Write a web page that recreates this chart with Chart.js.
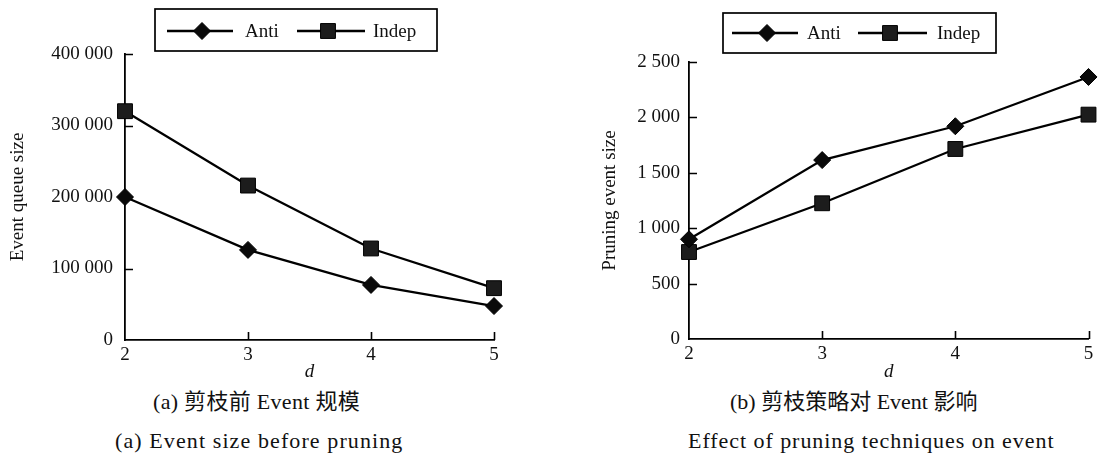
<!DOCTYPE html>
<html><head><meta charset="utf-8">
<script src="https://cdn.jsdelivr.net/npm/chart.js@4/dist/chart.umd.min.js"></script>
<style>
body{margin:0;width:1100px;height:455px;background:#fff;position:relative;overflow:hidden}
canvas{position:absolute;top:0}
#c1{left:0}
#c2{left:580px}
.cap{position:absolute;font-family:"Liberation Serif","Noto Sans CJK SC",serif;font-size:22px;color:#111;white-space:nowrap;line-height:1}
</style></head><body>
<canvas id="c1" width="560" height="385"></canvas>
<canvas id="c2" width="520" height="385"></canvas>
<div class="cap" style="left:153px;top:391px;letter-spacing:0.3px">(a) 剪枝前 Event 规模</div>
<div class="cap" style="left:115px;top:430px;letter-spacing:1.1px">(a) Event size before pruning</div>
<div class="cap" style="left:730px;top:391px;letter-spacing:0px">(b) 剪枝策略对 Event 影响</div>
<div class="cap" style="left:688px;top:430px;letter-spacing:0.95px">Effect of pruning techniques on event</div>
<script>
// ---- data ----
const categories = ['2', '3', '4', '5'];
const seriesNames = ['Anti', 'Indep'];
const queueAnti = [200000, 126000, 77000, 47500];
const queueIndep = [320000, 216000, 128000, 72500];
const pruneAnti = [900, 1615, 1920, 2365];
const pruneIndep = [785, 1225, 1715, 2025];
const queueTicks = [0, 100000, 200000, 300000, 400000];
const queueTickLabels = ['0', '100 000', '200 000', '300 000', '400 000'];
const pruneTicks = [0, 500, 1000, 1500, 2000, 2500];
const pruneTickLabels = ['0', '500', '1 000', '1 500', '2 000', '2 500'];
const xTitle = 'd';
const queueTitle = 'Event queue size';
const pruneTitle = 'Pruning event size';

const SERIF = '"Liberation Serif", "Times New Roman", serif';

const inwardTicks = {
  id: 'inwardTicks',
  beforeDatasetsDraw(chart) {
    const {ctx, chartArea: a, scales: {x, y}} = chart;
    ctx.save();
    ctx.strokeStyle = '#000';
    ctx.lineWidth = 1.6;
    ctx.beginPath();
    y.ticks.forEach(t => {
      if (t.value === y.min) return;
      const p = Math.round(y.getPixelForValue(t.value)) + 0.5;
      ctx.moveTo(a.left, p); ctx.lineTo(a.left + 8, p);
    });
    x.ticks.forEach((t, i) => {
      if (i === 0) return;
      const p = Math.round(x.getPixelForTick(i)) + 0.5;
      ctx.moveTo(p, a.bottom); ctx.lineTo(p, a.bottom - 8);
    });
    ctx.stroke();
    ctx.restore();
  }
};

const boxLegend = {
  id: 'boxLegend',
  afterDraw(chart, args, o) {
    const ctx = chart.ctx;
    ctx.save();
    ctx.strokeStyle = '#000';
    ctx.lineWidth = 1.7;
    ctx.strokeRect(o.box[0], o.box[1], o.box[2] - o.box[0], o.box[3] - o.box[1]);
    ctx.font = '19px ' + SERIF;
    ctx.textBaseline = 'middle';
    ctx.textAlign = 'left';
    o.items.forEach((it, i) => {
      const ds = chart.data.datasets[i];
      ctx.strokeStyle = '#000';
      ctx.lineWidth = 2.3;
      ctx.beginPath(); ctx.moveTo(it[0], o.cy); ctx.lineTo(it[1], o.cy); ctx.stroke();
      ctx.fillStyle = ds.pointBackgroundColor;
      ctx.strokeStyle = ds.pointBorderColor;
      ctx.lineWidth = 1;
      Chart.helpers.drawPoint(ctx, {pointStyle: ds.pointStyle, radius: ds.pointRadius, rotation: 0, borderWidth: 1}, it[2], o.cy);
      ctx.fillStyle = '#111';
      ctx.fillText(ds.label, it[3], o.cy + 1);
    });
    ctx.restore();
  }
};

function makeChart(id, anti, indep, ticks, tickLabels, yMax, yStep, title, L) {
  return new Chart(document.getElementById(id), {
    type: 'line',
    data: {
      labels: categories,
      datasets: [
        {label: seriesNames[0], data: anti, borderColor: '#000', borderWidth: 2.3,
         pointStyle: 'rectRot', pointRadius: 8.5, pointBackgroundColor: '#0a0a0a', pointBorderColor: '#000',
         pointBorderWidth: 1, tension: 0, clip: false},
        {label: seriesNames[1], data: indep, borderColor: '#000', borderWidth: 2.3,
         pointStyle: 'rect', pointRadius: 10.5, pointBackgroundColor: '#1c1c1c', pointBorderColor: '#000',
         pointBorderWidth: 1, tension: 0, clip: false}
      ]
    },
    options: {
      responsive: false,
      animation: false,
      devicePixelRatio: 1,
      layout: {padding: {left: 0, right: L.padRight, top: L.top, bottom: 0}},
      plugins: {
        legend: {display: false},
        tooltip: {enabled: false},
        boxLegend: L.legend
      },
      scales: {
        x: {
          type: 'category',
          offset: false,
          grid: {display: false, drawTicks: false},
          border: {display: true, color: '#000', width: 1.8},
          ticks: {color: '#111', font: {family: SERIF, size: 19}, padding: 4, maxRotation: 0},
          title: {display: true, text: xTitle, color: '#111', font: {family: SERIF, size: 19, style: 'italic'}, padding: {top: 0, bottom: 2}},
          afterFit(s) { s.height = L.xHeight; }
        },
        y: {
          min: 0, max: yMax,
          grid: {display: false, drawTicks: false},
          border: {display: true, color: '#000', width: 1.8},
          ticks: {
            stepSize: yStep, color: '#111', font: {family: SERIF, size: 19}, padding: L.tickPad,
            callback: v => tickLabels[ticks.indexOf(v)]
          },
          title: {display: true, text: title, color: '#111', font: {family: SERIF, size: 19}, padding: {top: L.titlePad, bottom: 0}},
          afterFit(s) { s.width = L.yWidth; }
        }
      }
    },
    plugins: [inwardTicks, boxLegend]
  });
}

makeChart('c1', queueAnti, queueIndep, queueTicks, queueTickLabels, 400000, 100000, queueTitle, {
  padRight: 66, top: 54, xHeight: 45, yWidth: 125, tickPad: 12, titlePad: 7,
  legend: {box: [155, 9, 437, 51], cy: 31, items: [[167, 233, 202, 245], [297, 365, 328, 373]]}
});
makeChart('c2', pruneAnti, pruneIndep, pruneTicks, pruneTickLabels, 2500, 500, pruneTitle, {
  padRight: 10, top: 62, xHeight: 46, yWidth: 109, tickPad: 9, titlePad: 19,
  legend: {box: [143, 13, 416, 53], cy: 33, items: [[152, 218, 187, 227], [278, 347, 310, 357]]}
});
</script>
</body></html>
